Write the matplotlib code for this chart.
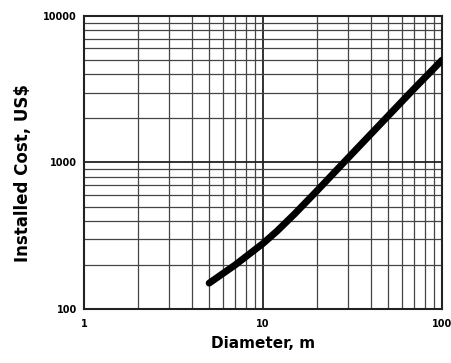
import matplotlib
matplotlib.use("Agg")
import matplotlib.pyplot as plt
from matplotlib.ticker import LogLocator, FixedLocator, FixedFormatter, NullFormatter

diameter_m = [5, 7, 10, 12, 15, 20, 30, 50, 70, 100]
cost_usd = [150, 200, 280, 341, 445, 640, 1080, 2080, 3200, 5000]

x_ticks = [1, 10, 100]
x_tick_labels = ["1", "10", "100"]
y_ticks = [100, 1000, 10000]
y_tick_labels = ["100", "1000", "10000"]

plt.rcParams['font.family'] = ['DejaVu Sans']

fig = plt.figure(figsize=(4.52, 3.63), dpi=100)
ax = fig.add_axes([0.186, 0.149, 0.792, 0.807])
ax.set_xscale('log')
ax.set_yscale('log')
ax.set_xlim(1, 100)
ax.set_ylim(100, 10000)

ax.xaxis.set_major_locator(FixedLocator(x_ticks))
ax.xaxis.set_major_formatter(FixedFormatter(x_tick_labels))
ax.yaxis.set_major_locator(FixedLocator(y_ticks))
ax.yaxis.set_major_formatter(FixedFormatter(y_tick_labels))
ax.xaxis.set_minor_locator(LogLocator(base=10, subs=range(2, 10)))
ax.yaxis.set_minor_locator(LogLocator(base=10, subs=range(2, 10)))
ax.xaxis.set_minor_formatter(NullFormatter())
ax.yaxis.set_minor_formatter(NullFormatter())

ax.grid(True, which='major', color='#222222', linewidth=1.3)
ax.grid(True, which='minor', color='#444444', linewidth=0.9)
ax.tick_params(which='both', length=0)
ax.tick_params(axis='x', pad=7, labelsize=7)
ax.tick_params(axis='y', pad=5, labelsize=7)
for lbl in ax.get_xticklabels() + ax.get_yticklabels():
    lbl.set_fontweight('bold')
for s in ax.spines.values():
    s.set_linewidth(1.5)
    s.set_color('#222222')

ax.plot(diameter_m, cost_usd, color='black', linewidth=5,
        solid_capstyle='round', solid_joinstyle='round', zorder=5)

ax.set_xlabel("Diameter, m", fontsize=11, fontweight='bold', labelpad=5)
ax.set_ylabel("Installed Cost, US$", fontsize=12, fontweight='bold')
ax.yaxis.set_label_coords(-0.145, 0.464)

fig.savefig("out.png", dpi=100)
